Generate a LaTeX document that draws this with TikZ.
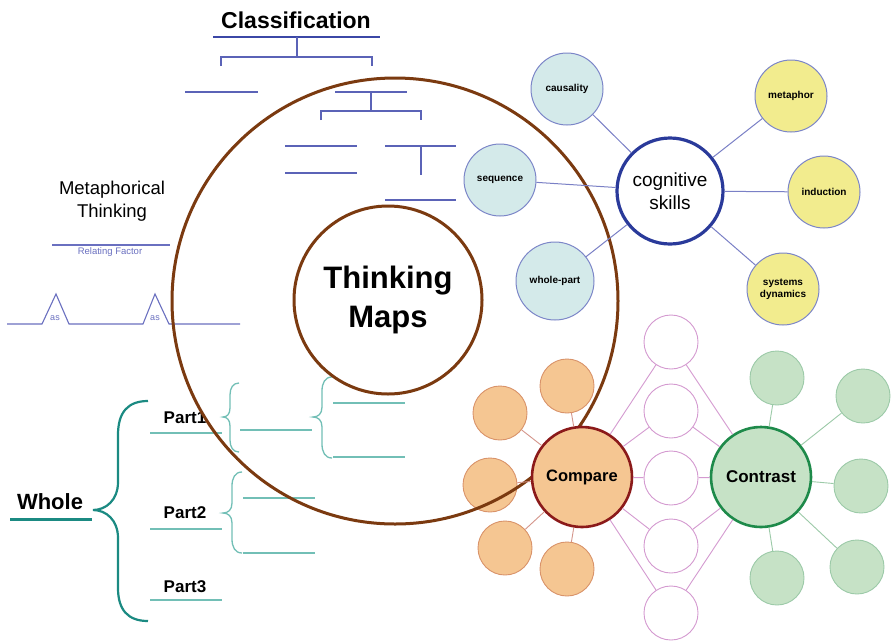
\documentclass[tikz,border=0pt]{standalone}
\usepackage{fontspec}
\setmainfont{Liberation Sans}
\definecolor{brownc}{HTML}{7B3A10}
\definecolor{clsblue}{HTML}{5B63B7}
\definecolor{clsdark}{HTML}{3B47A6}
\definecolor{metblue}{HTML}{6A70C0}
\definecolor{tealdark}{HTML}{1B8A82}
\definecolor{teallight}{HTML}{72BFB6}
\definecolor{cogborder}{HTML}{2A3A9A}
\definecolor{bubborder}{HTML}{7C86C8}
\definecolor{bubteal}{HTML}{D4EAEA}
\definecolor{bubyellow}{HTML}{F2EC8E}
\definecolor{cogline}{HTML}{7A80C6}
\definecolor{orfill}{HTML}{F5C692}
\definecolor{orborder}{HTML}{D9936A}
\definecolor{cmpborder}{HTML}{8B1A1A}
\definecolor{grfill}{HTML}{C6E2C6}
\definecolor{grborder}{HTML}{9CCAA8}
\definecolor{ctrborder}{HTML}{1E8A4A}
\definecolor{pinkc}{HTML}{D49AD0}
\definecolor{orline}{HTML}{D4958A}
\begin{document}
\begin{tikzpicture}[x=1pt,y=-1pt,
  every node/.style={inner sep=0pt},
  clsline/.style={draw=clsblue, line width=1.1pt},
  metline/.style={draw=metblue, line width=1.1pt},
  bigteal/.style={draw=tealdark, line width=2.2pt},
  smteal/.style={draw=teallight, line width=1.3pt},
  bubteal/.style={circle, draw=bubborder, line width=1pt, fill=bubteal, align=center, font=\bfseries\fontsize{10}{12}\selectfont},
  bubyel/.style={circle, draw=bubborder, line width=1pt, fill=bubyellow, align=center, font=\bfseries\fontsize{10}{12}\selectfont},
  orsat/.style={circle, draw=orborder, line width=0.9pt, fill=orfill, minimum size=54pt},
  grsat/.style={circle, draw=grborder, line width=0.9pt, fill=grfill, minimum size=54pt},
  pinkcirc/.style={circle, draw=pinkc, line width=0.9pt, fill=white, minimum size=54pt},
  brownring/.style={circle, draw=brownc, line width=3pt},
  cogconn/.style={draw=cogline, line width=1pt},
  orconn/.style={draw=orline, line width=0.9pt},
  grconn/.style={draw=grborder, line width=0.9pt},
  pinkconn/.style={draw=pinkc, line width=0.9pt}
]
\useasboundingbox[fill=white] (0,0) rectangle (891,641);

% ---------- Classification (tree map) ----------
\node[font=\bfseries\fontsize{23}{27}\selectfont] (cls) at (296,20) {Classification};
\draw[draw=clsdark, line width=2.4pt] (213,37) -- (380,37);
\draw[clsline] (297,37) -- (297,57);
\draw[clsline] (221,66) -- (221,57) -- (372,57) -- (372,66);
\draw[clsline] (185,92) -- (258,92);
\draw[clsline] (335,92) -- (407,92);
\draw[clsline] (371,92) -- (371,111);
\draw[clsline] (321,120) -- (321,111) -- (421,111) -- (421,120);
\draw[clsline] (285,146) -- (357,146);
\draw[clsline] (285,173) -- (357,173);
\draw[clsline] (385,146) -- (456,146);
\draw[clsline] (421,146) -- (421,175);
\draw[clsline] (385,200) -- (456,200);

% ---------- Metaphorical thinking (bridge map) ----------
\node[font=\fontsize{18.5}{23}\selectfont, align=center] (met) at (112,201) {Metaphorical\\Thinking};
\draw[metline] (52,245) -- (170,245);
\node[font=\fontsize{9.5}{11}\selectfont, text=metblue] (rel) at (110,252) {Relating Factor};
\draw[metline] (7,324) -- (42,324) -- (56,294) -- (69,324) -- (143,324) -- (155,294) -- (169,324) -- (240,324);
\node[font=\fontsize{9}{11}\selectfont, text=metblue] (as1) at (55,318) {as};
\node[font=\fontsize{9}{11}\selectfont, text=metblue] (as2) at (155,318) {as};

% ---------- Whole / parts (brace map) ----------
\node[font=\bfseries\fontsize{22}{26}\selectfont] (whole) at (50,502) {Whole};
\draw[draw=tealdark, line width=3pt] (10,519) -- (92,519);
\draw[bigteal] (148,401) .. controls (128,401) and (118,412) .. (118,435) -- (118,482)
  .. controls (118,500) and (106,510) .. (93,510)
  .. controls (106,510) and (118,520) .. (118,538) -- (118,588)
  .. controls (118,610) and (128,621) .. (148,621);
\node[font=\bfseries\fontsize{17}{20}\selectfont] (p1) at (185,418) {Part1};
\node[font=\bfseries\fontsize{17}{20}\selectfont] (p2) at (185,513) {Part2};
\node[font=\bfseries\fontsize{17}{20}\selectfont] (p3) at (185,587) {Part3};
\draw[smteal] (150,433) -- (222,433);
\draw[smteal] (150,529) -- (222,529);
\draw[smteal] (150,600) -- (222,600);
% brace 1
\draw[smteal] (239,383) .. controls (233,383) and (230,388) .. (230,395) -- (230,408)
  .. controls (230,414) and (227,417) .. (223,417)
  .. controls (227,417) and (230,420) .. (230,426) -- (230,440)
  .. controls (230,447) and (233,452) .. (239,452);
\draw[smteal] (240,430) -- (312,430);
% brace 2
\draw[smteal] (332,377) .. controls (325,377) and (322,383) .. (322,391) -- (322,407)
  .. controls (322,414) and (318,417) .. (313,417)
  .. controls (318,417) and (322,420) .. (322,427) -- (322,444)
  .. controls (322,452) and (325,458) .. (332,458);
\draw[smteal] (333,403) -- (405,403);
\draw[smteal] (333,457) -- (405,457);
% brace 3
\draw[smteal] (242,472) .. controls (235,472) and (232,478) .. (232,486) -- (232,503)
  .. controls (232,510) and (228,513) .. (223,513)
  .. controls (228,513) and (232,516) .. (232,523) -- (232,539)
  .. controls (232,547) and (235,553) .. (242,553);
\draw[smteal] (243,498) -- (315,498);
\draw[smteal] (243,553) -- (315,553);

% ---------- Compare satellites (under the ring) ----------
\node[orsat] (o1) at (567,386) {};
\node[orsat] (o2) at (500,413) {};
\node[orsat] (o3) at (490,485) {};
\node[orsat] (o4) at (505,548) {};
\node[orsat] (o5) at (567,569) {};

% ---------- Thinking Maps rings ----------
\node[brownring, minimum size=446pt] (outer) at (395,301) {};
\node[brownring, minimum size=188pt, align=center, font=\bfseries\fontsize{31}{39}\selectfont] (inner) at (388,300) {Thinking\\Maps};

% ---------- Cognitive skills (circle/bubble map) ----------
\node[circle, draw=cogborder, line width=3.2pt, fill=white, minimum size=106pt, align=center, font=\fontsize{19}{23}\selectfont] (cog) at (670,191) {cognitive\\skills};
\node[bubteal, minimum size=72pt] (caus) at (567,89) {causality};
\node[bubteal, minimum size=72pt] (seq) at (500,180) {sequence};
\node[bubteal, minimum size=78pt] (wp) at (555,281) {whole-part};
\node[bubyel, minimum size=72pt] (metaph) at (791,96) {metaphor};
\node[bubyel, minimum size=72pt] (ind) at (824,192) {induction};
\node[bubyel, minimum size=72pt] (sys) at (783,289) {systems\\dynamics};
\foreach \b in {caus,seq,wp,metaph,ind,sys}{\draw[cogconn] (\b) -- (cog);}

% ---------- Compare / contrast (double bubble map) ----------
\node[circle, draw=cmpborder, line width=2.6pt, fill=orfill, minimum size=100pt, font=\bfseries\fontsize{16.5}{20}\selectfont] (cmp) at (582,477) {Compare};
\node[circle, draw=ctrborder, line width=2.6pt, fill=grfill, minimum size=100pt, font=\bfseries\fontsize{17}{20}\selectfont] (ctr) at (761,477) {Contrast};
\node[pinkcirc] (m1) at (671,342) {};
\node[pinkcirc] (m2) at (671,411) {};
\node[pinkcirc] (m3) at (671,478) {};
\node[pinkcirc] (m4) at (671,546) {};
\node[pinkcirc] (m5) at (671,613) {};
\node[grsat] (g1) at (777,378) {};
\node[grsat] (g2) at (863,396) {};
\node[grsat] (g3) at (861,486) {};
\node[grsat] (g4) at (857,567) {};
\node[grsat] (g5) at (777,578) {};
\foreach \m in {m1,m2,m3,m4,m5}{\draw[pinkconn] (cmp) -- (\m) -- (ctr);}
\foreach \o in {o1,o2,o3,o4,o5}{\draw[orconn] (\o) -- (cmp);}
\foreach \g in {g1,g2,g3,g4,g5}{\draw[grconn] (\g) -- (ctr);}
\end{tikzpicture}
\end{document}
